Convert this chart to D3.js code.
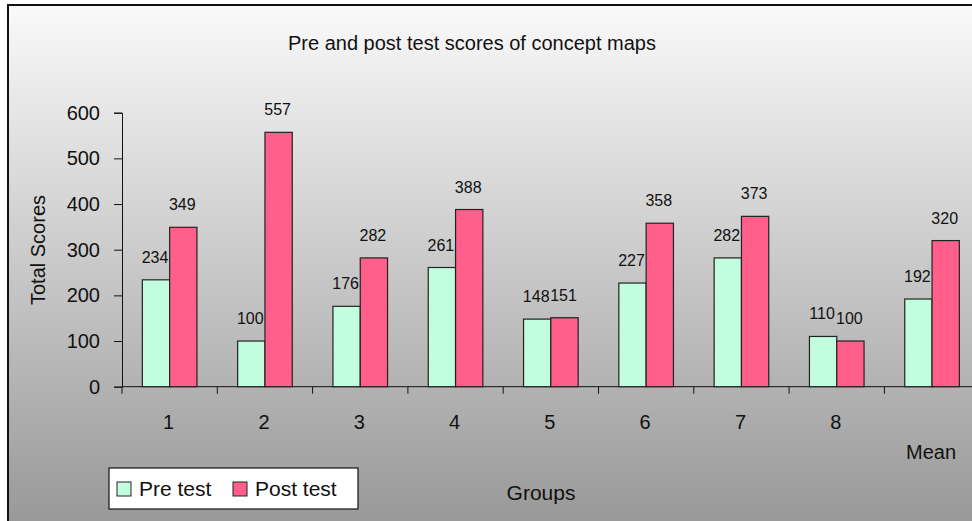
<!DOCTYPE html>
<html lang="en">
<head>
<meta charset="UTF-8">
<title>Pre and post test scores of concept maps</title>
<script src="https://d3js.org/d3.v7.min.js"></script>
<style>
  body { margin: 0; background: #fff; }
  svg text { font-family: "Liberation Sans", Arial, sans-serif; fill: #111; }
</style>
</head>
<body>
<div id="chart"></div>
<script>
// chart data
var groups = ["1", "2", "3", "4", "5", "6", "7", "8", "Mean"];
var preTest = [234, 100, 176, 261, 148, 227, 282, 110, 192];
var postTest = [349, 557, 282, 388, 151, 358, 373, 100, 320];
var yTicks = [0, 100, 200, 300, 400, 500, 600];

var width = 972, height = 521;
var svg = d3.select("#chart").append("svg")
    .attr("width", width).attr("height", height);

// gray gradient background like the old spreadsheet chart
var grad = svg.append("defs").append("linearGradient")
    .attr("id", "bg").attr("x1", 0).attr("y1", 0).attr("x2", 0).attr("y2", 1);
grad.append("stop").attr("offset", "0%").attr("stop-color", "#fafafa");
grad.append("stop").attr("offset", "100%").attr("stop-color", "#989898");

svg.append("rect").attr("x", 0).attr("y", 0).attr("width", width).attr("height", height)
    .attr("fill", "#fff");
svg.append("rect").attr("x", 8).attr("y", 5).attr("width", width).attr("height", height)
    .attr("fill", "url(#bg)");
svg.append("path").attr("d", "M8," + height + "V5H" + width)
    .attr("fill", "none").attr("stroke", "#111").attr("stroke-width", 2);

var plotLeft = 122, plotTop = 112.7, plotBottom = 386.7;
var x = d3.scaleBand().domain(groups).range([plotLeft, plotLeft + 95.3 * groups.length]);
var y = d3.scaleLinear().domain([0, 600]).range([plotBottom, plotTop]);
var barW = 27.3;

// title
svg.append("text").attr("x", 472).attr("y", 50).attr("text-anchor", "middle")
    .style("font-size", "20px").text("Pre and post test scores of concept maps");

// y axis
var yAxis = svg.append("g").attr("transform", "translate(" + plotLeft + ",0)")
    .call(d3.axisLeft(y).tickValues(yTicks).tickSize(8).tickPadding(14));
yAxis.select(".domain").attr("stroke", "#111");
yAxis.selectAll(".tick line").attr("stroke", "#111");
yAxis.selectAll("text").style("font-size", "20px").attr("fill", "#111")
    .style("font-family", "Liberation Sans, Arial, sans-serif");

// x axis, group labels are drawn by hand so Mean can be staggered
var xAxis = svg.append("g").attr("transform", "translate(0," + plotBottom + ")");
xAxis.append("line").attr("x1", plotLeft).attr("x2", width)
    .attr("stroke", "#111");
xAxis.selectAll(".xt").data(groups).enter().append("line")
    .attr("x1", function(d) { return x(d); }).attr("x2", function(d) { return x(d); })
    .attr("y1", 0).attr("y2", 7).attr("stroke", "#111");
xAxis.selectAll(".xl").data(groups).enter().append("text")
    .attr("x", function(d) { return x(d) + x.bandwidth() / 2 - 1; })
    .attr("y", function(d, i) { return i === groups.length - 1 ? 72 : 42; })
    .attr("text-anchor", "middle").style("font-size", "20px")
    .text(function(d) { return d; });

// bars
var series = [
  { name: "Pre test", values: preTest, color: "#c3fde0", off: -barW },
  { name: "Post test", values: postTest, color: "#ff5f8a", off: 0 }
];
series.forEach(function(s) {
  var g = svg.append("g");
  g.selectAll("rect").data(s.values).enter().append("rect")
    .attr("x", function(d, i) { return x(groups[i]) + x.bandwidth() / 2 + s.off; })
    .attr("y", function(d) { return y(d); })
    .attr("width", barW)
    .attr("height", function(d) { return plotBottom - y(d); })
    .attr("fill", s.color).attr("stroke", "#222").attr("stroke-width", 1.2);
  g.selectAll("text").data(s.values).enter().append("text")
    .attr("x", function(d, i) { return x(groups[i]) + x.bandwidth() / 2 + s.off + barW / 2 - 1; })
    .attr("y", function(d) { return y(d) - 17; })
    .attr("text-anchor", "middle").style("font-size", "16px")
    .text(function(d) { return d; });
});

// axis titles
svg.append("text").attr("transform", "translate(45,250) rotate(-90)")
    .attr("text-anchor", "middle").style("font-size", "20px").text("Total Scores");
svg.append("text").attr("x", 541).attr("y", 500).attr("text-anchor", "middle")
    .style("font-size", "21px").text("Groups");

// legend
var leg = svg.append("g");
leg.append("rect").attr("x", 109).attr("y", 468).attr("width", 249).attr("height", 41)
    .attr("fill", "#fff").attr("stroke", "#111").attr("stroke-width", 1.2);
var legX = [117, 233];
series.forEach(function(s, i) {
  leg.append("rect").attr("x", legX[i]).attr("y", 482).attr("width", 14).attr("height", 14)
    .attr("fill", s.color).attr("stroke", "#222");
  leg.append("text").attr("x", legX[i] + 22).attr("y", 496)
    .style("font-size", "21px").text(s.name);
});
</script>
</body>
</html>
